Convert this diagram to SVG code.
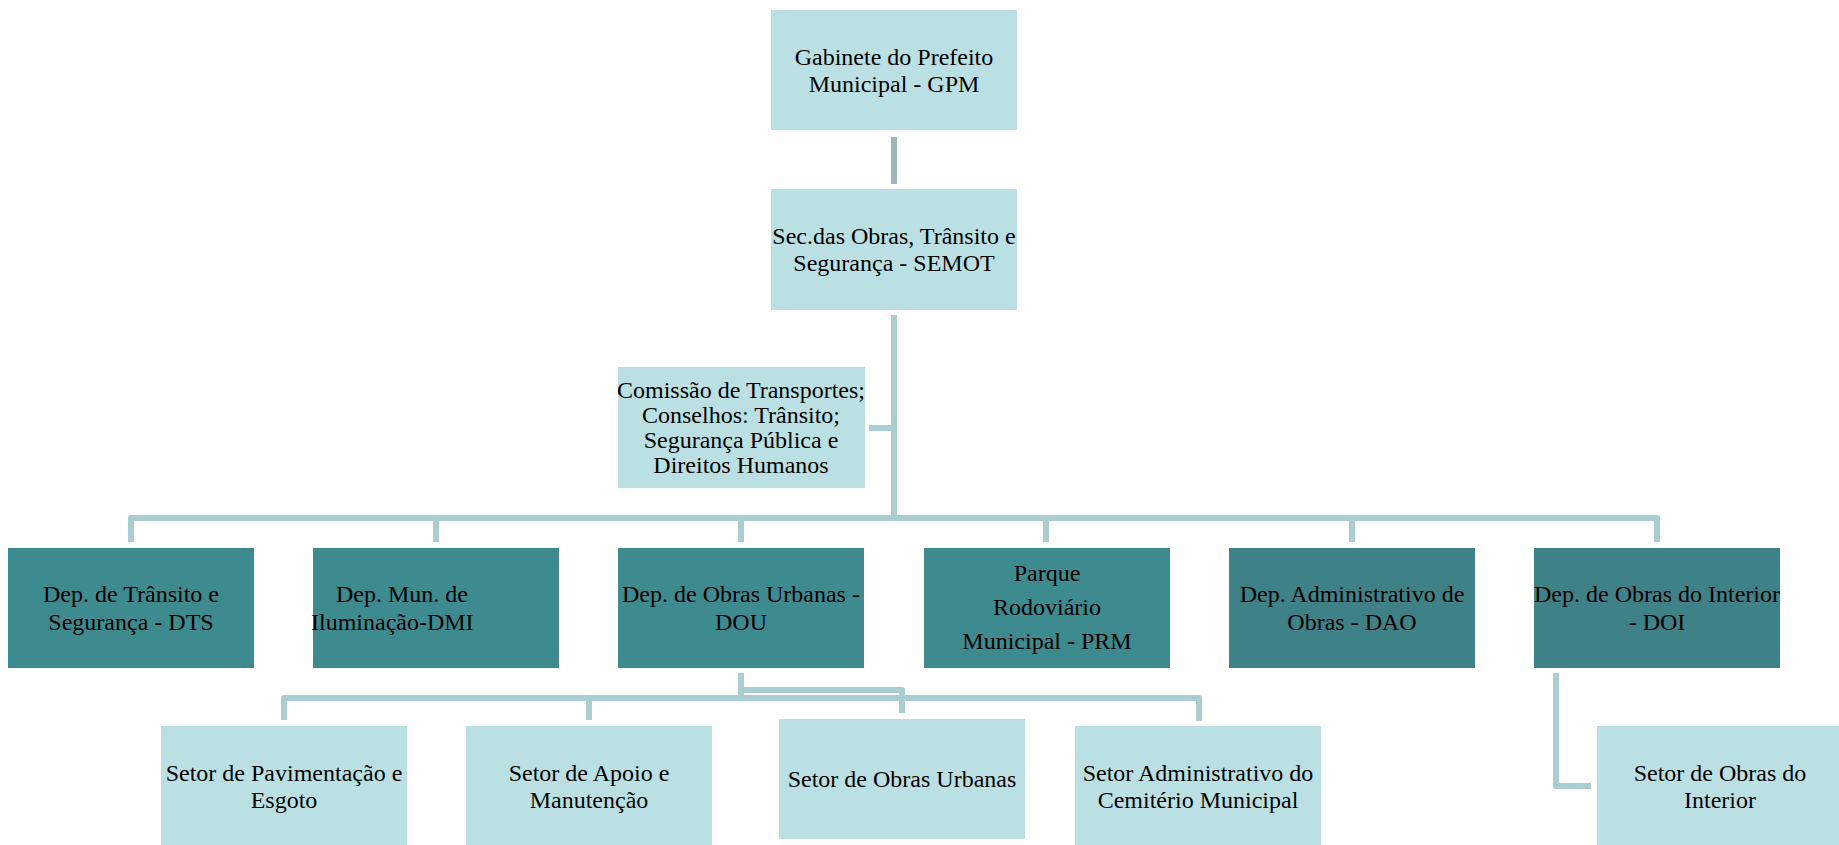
<svg xmlns="http://www.w3.org/2000/svg" width="1839" height="845" viewBox="0 0 1839 845">
<style>
.light{fill:#bae0e3}
.dark{fill:#3d8a8f}
.darker{fill:#3e8186}
.t{font-family:"Liberation Serif","Times New Roman",serif;font-size:24px;fill:#000;text-anchor:middle}
.ts{font-family:"Liberation Serif","Times New Roman",serif;font-size:24px;fill:#000;text-anchor:start}
.c{fill:none;stroke:#a9cdd1;stroke-width:6;stroke-linejoin:round}
.c2{fill:none;stroke:#98b8bc;stroke-width:6}
</style>
<rect width="1839" height="845" fill="#fff"/>
<g id="connectors">
<path class="c2" d="M894,137V184"/>
<path class="c" d="M894,315V518"/>
<path class="c" d="M869,428H894"/>
<path class="c" d="M131,542V518H1657V542"/>
<path class="c" d="M436,518V542M741,518V542M1046,518V542M1352,518V542"/>
<path class="c" d="M741,673V698"/>
<path class="c" d="M741,690H902V713"/>
<path class="c" d="M284,720V698H1199V721"/>
<path class="c" d="M589,698V720"/>
<path class="c" d="M1556,673V786H1591"/>
</g>
<g id="gpm">
<rect class="light" x="771" y="10" width="246" height="120"/>
<text class="t" x="894" y="65">Gabinete do Prefeito</text>
<text class="t" x="894" y="92">Municipal - GPM</text>
</g>
<g id="semot">
<rect class="light" x="771" y="189" width="246" height="121"/>
<text class="t" x="894" y="244">Sec.das Obras, Trânsito e</text>
<text class="t" x="894" y="271">Segurança - SEMOT</text>
</g>
<g id="comissao">
<rect class="light" x="618" y="367" width="247" height="121"/>
<text class="t" x="741" y="398">Comissão de Transportes;</text>
<text class="t" x="741" y="423">Conselhos: Trânsito;</text>
<text class="t" x="741" y="448">Segurança Pública e</text>
<text class="t" x="741" y="473">Direitos Humanos</text>
</g>
<g id="dts">
<rect class="dark" x="8" y="548" width="246" height="120"/>
<text class="t" x="131" y="602">Dep. de Trânsito e</text>
<text class="t" x="131" y="630">Segurança - DTS</text>
</g>
<g id="dmi">
<rect class="dark" x="313" y="548" width="246" height="120"/>
<text class="ts" x="336" y="602">Dep. Mun. de</text>
<text class="ts" x="311" y="630">Iluminação-DMI</text>
</g>
<g id="dou">
<rect class="dark" x="618" y="548" width="246" height="120"/>
<text class="t" x="741" y="602">Dep. de Obras Urbanas -</text>
<text class="t" x="741" y="630">DOU</text>
</g>
<g id="prm">
<rect class="dark" x="924" y="548" width="246" height="120"/>
<text class="t" x="1047" y="581">Parque</text>
<text class="t" x="1047" y="615">Rodoviário</text>
<text class="t" x="1047" y="649">Municipal - PRM</text>
</g>
<g id="dao">
<rect class="darker" x="1229" y="548" width="246" height="120"/>
<text class="t" x="1352" y="602">Dep. Administrativo de</text>
<text class="t" x="1352" y="630">Obras - DAO</text>
</g>
<g id="doi">
<rect class="darker" x="1534" y="548" width="246" height="120"/>
<text class="t" x="1657" y="602">Dep. de Obras do Interior</text>
<text class="t" x="1657" y="630">- DOI</text>
</g>
<g id="pavimentacao">
<rect class="light" x="161" y="726" width="246" height="121"/>
<text class="t" x="284" y="781">Setor de Pavimentação e</text>
<text class="t" x="284" y="808">Esgoto</text>
</g>
<g id="apoio">
<rect class="light" x="466" y="726" width="246" height="121"/>
<text class="t" x="589" y="781">Setor de Apoio e</text>
<text class="t" x="589" y="808">Manutenção</text>
</g>
<g id="obras-urbanas">
<rect class="light" x="779" y="719" width="246" height="120"/>
<text class="t" x="902" y="787">Setor de Obras Urbanas</text>
</g>
<g id="cemiterio">
<rect class="light" x="1075" y="726" width="246" height="121"/>
<text class="t" x="1198" y="781">Setor Administrativo do</text>
<text class="t" x="1198" y="808">Cemitério Municipal</text>
</g>
<g id="interior">
<rect class="light" x="1597" y="726" width="246" height="121"/>
<text class="t" x="1720" y="781">Setor de Obras do</text>
<text class="t" x="1720" y="808">Interior</text>
</g>
</svg>
